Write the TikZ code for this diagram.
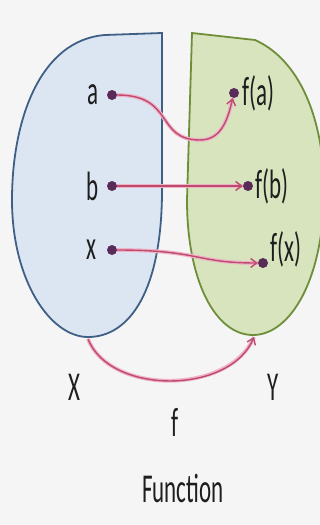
\documentclass[tikz,border=0pt]{standalone}
\usepackage{fontspec}
\setmainfont{Carlito}[FakeStretch=0.56]
\usetikzlibrary{arrows.meta,positioning}
\definecolor{bgc}{HTML}{F5F5F5}
\definecolor{setx}{HTML}{DCE6F2}
\definecolor{setxline}{HTML}{3F5F86}
\definecolor{sety}{HTML}{D7E4BD}
\definecolor{setyline}{HTML}{6E8E3A}
\definecolor{maparrow}{HTML}{BE4A6E}
\definecolor{mapglow}{HTML}{EFB3C8}
\definecolor{dotc}{HTML}{5A2A58}
\definecolor{txt}{HTML}{1E1E1E}

\begin{document}
\begin{tikzpicture}[
		x=1pt, y=-1pt,
		every node/.style={font=\fontsize{41}{44}\selectfont, text=txt, inner sep=2pt},
		elem/.style={circle, fill=dotc, minimum size=10pt, inner sep=0pt},
		maparr/.style={draw=maparrow, line width=1.4pt, -{Straight Barb[length=6pt,width=9pt]},
			preaction={draw=mapglow, line width=3.8pt, -}}
	]
		\fill[bgc] (0,0) rectangle (320,525);
		\useasboundingbox (0,0) rectangle (320,525);
		% the two sets
		\begin{scope}
			\clip (0,0) rectangle (320,525);
			\draw[fill=setx, draw=setxline, line width=1.8pt]
				(162,33) -- (105,35) .. controls (40,40) and (12,120) .. (12,200)
				.. controls (12,280) and (50,337) .. (88,337)
				.. controls (130,337) and (162,290) .. (162,190) -- cycle;
			\draw[fill=sety, draw=setyline, line width=1.8pt]
				(192,33) -- (255,40) .. controls (300,60) and (324,120) .. (324,190)
				.. controls (324,280) and (290,335) .. (253,335)
				.. controls (215,335) and (187,280) .. (187,200) -- cycle;
		\end{scope}
		\coordinate (xbot) at (88,339);
		\coordinate (ybot) at (254,337);

		% elements
		\node[elem] (a) at (112,95) {};
		\node[elem] (b) at (112,186) {};
		\node[elem] (x) at (112,250) {};
		\node[elem] (fa) at (234,93) {};
		\node[elem] (fb) at (248,186) {};
		\node[elem] (fx) at (263,263) {};

		\node[left=6pt of a] (alab) {a};
		\node[left=6pt of b] (blab) {b};
		\node[left=8pt of x] (xlab) {x};
		\node[right=1pt of fa] (falab) {f(a)};
		\node[right=0pt of fb] (fblab) {f(b)};
		\node[above right=-10pt and 2pt of fx] (fxlab) {f(x)};

		% mappings
		\draw[maparr] (a) .. controls (175,95) and (155,140) .. (200,140)
			.. controls (222,140) and (228,118) .. (fa);
		\draw[maparr] (b) -- (fb);
		\draw[maparr] (x) .. controls (200,250) and (195,263) .. (fx);
		\draw[maparr] (xbot) .. controls (110,395) and (230,395) .. (ybot);

		\node (xset) at (74,387) {X};
		\node (yset) at (273,387) {Y};
		\node (fname) at (175,422) {f};
		\node (title) at (183,488) {Function};
	\end{tikzpicture}
\end{document}
